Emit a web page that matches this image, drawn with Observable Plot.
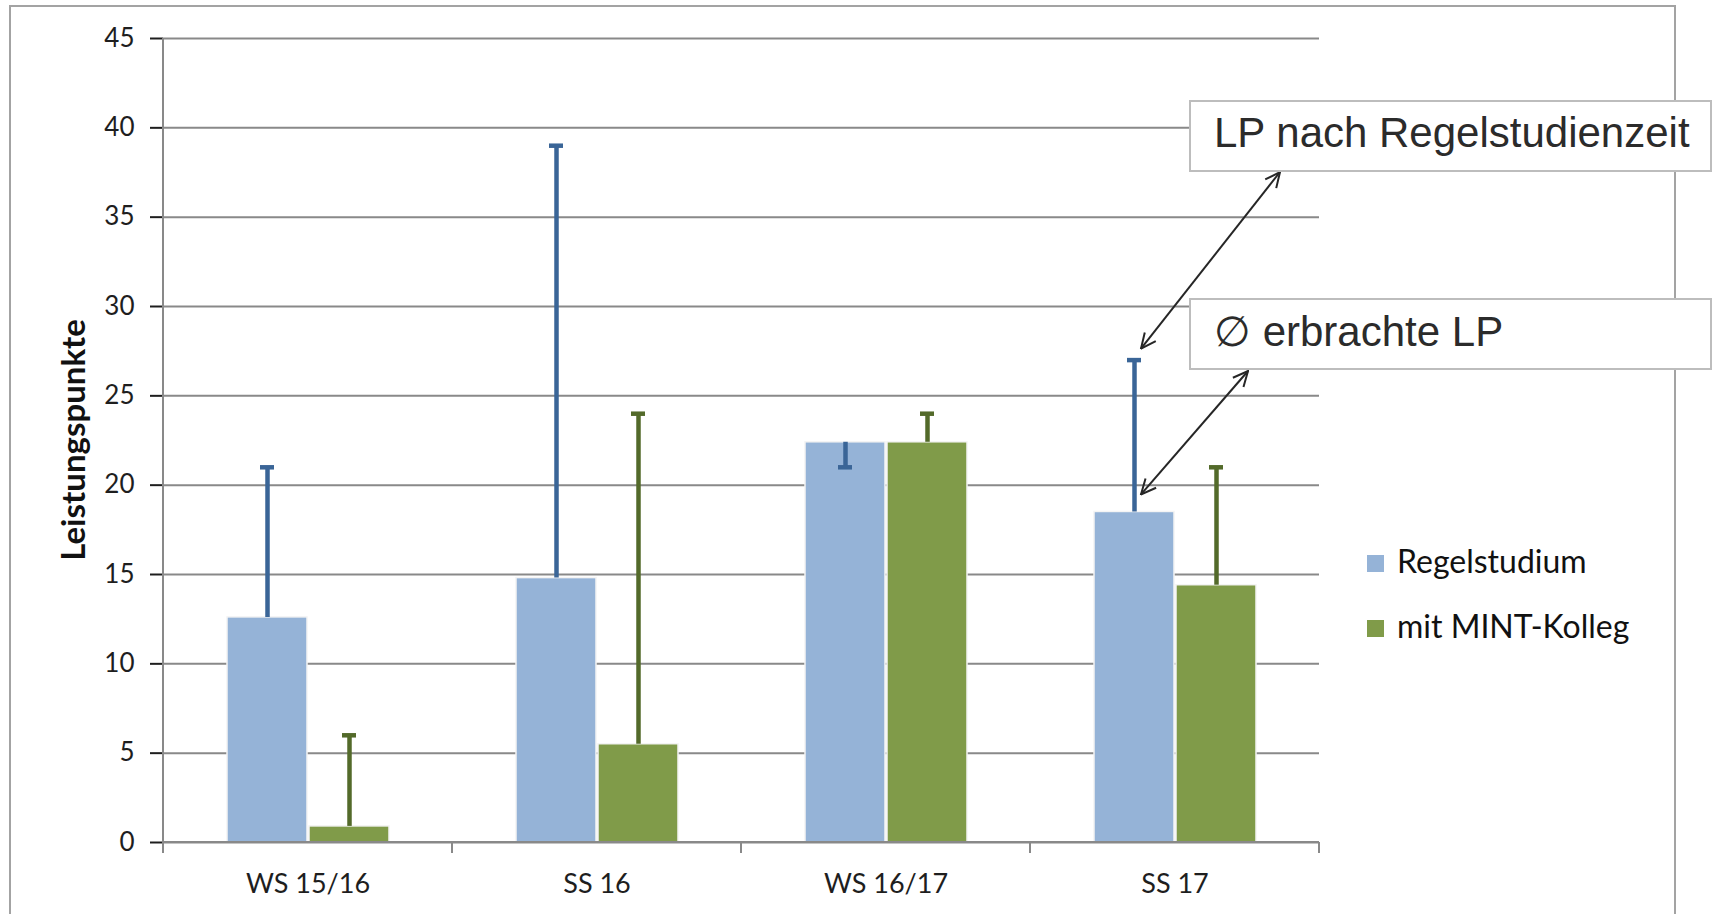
<!DOCTYPE html>
<html>
<head>
<meta charset="utf-8">
<script src="https://cdn.jsdelivr.net/npm/d3@7"></script>
<script src="https://cdn.jsdelivr.net/npm/@observablehq/plot@0.6"></script>
<style>
  html, body { margin: 0; padding: 0; background: #fff; }
  #chart { position: relative; width: 1717px; height: 914px; overflow: hidden; background: #fff; }
  #chart svg { display: block; }
</style>
</head>
<body>
<div id="chart"></div>
<script>
// ---- data ----
const categories = ["WS 15/16", "SS 16", "WS 16/17", "SS 17"];
const seriesNames = ["Regelstudium", "mit MINT-Kolleg"];
const regelMean = [12.6, 14.8, 22.4, 18.5];     // Ø erbrachte LP
const regelAfter = [21, 39, 21, 27];            // LP nach Regelstudienzeit
const mintMean = [0.9, 5.5, 22.4, 14.4];
const mintAfter = [6, 24, 24, 21];
const yTicks = [0, 5, 10, 15, 20, 25, 30, 35, 40, 45];
const yTitle = "Leistungspunkte";
const noteTop = "LP nach Regelstudienzeit";
const noteBottom = "\u2205 erbrachte LP";

const barColors = ["#95b3d7", "#809b49"];
const errColors = ["#3a6597", "#536a2a"];
const gridColor = "#898989";

const rows = categories.flatMap((c, i) => [
  {cat: c, series: seriesNames[0], mean: regelMean[i], after: regelAfter[i]},
  {cat: c, series: seriesNames[1], mean: mintMean[i], after: mintAfter[i]}
]);

const errMarks = seriesNames.flatMap((s, k) => [
  Plot.ruleX(rows, {filter: d => d.series === s, fx: "cat", x: "series", y1: "mean", y2: "after",
    stroke: errColors[k], strokeWidth: 4.5}),
  Plot.tickY(rows, {filter: d => d.series === s, fx: "cat", x: "series", y: "after",
    stroke: errColors[k], strokeWidth: 4.5, insetLeft: 34, insetRight: 34})
]);

const plot = Plot.plot({
  width: 1717,
  height: 914,
  marginLeft: 162,
  marginRight: 397,
  marginTop: 38,
  marginBottom: 72,
  style: {fontFamily: "Lato, 'Open Sans', sans-serif", fontSize: "26px", color: "#1e1e1e", background: "transparent", overflow: "visible"},
  fx: {domain: categories, padding: 0, axis: "bottom", tickSize: 0, tickPadding: 31, label: null},
  x: {domain: seriesNames, paddingInner: 0, paddingOuter: 0.75, axis: null},
  y: {domain: [0, 45], ticks: yTicks, tickSize: 13, tickPadding: 16, label: null},
  color: {domain: seriesNames, range: barColors},
  marks: [
    Plot.ruleY(yTicks, {stroke: gridColor, strokeWidth: 2}),
    Plot.barY(rows, {fx: "cat", x: "series", y: "mean", fill: "series", insetLeft: 1, insetRight: 1,
      stroke: "#f4f4f4", strokeWidth: 1.5}),
    ...errMarks
  ]
});

document.getElementById("chart").appendChild(plot);

// ---- decorations drawn with the plot's own scales ----
const svg = d3.select(plot);
const yS = plot.scale("y");
const fxS = plot.scale("fx");
const xS = plot.scale("x");
const y0 = yS.apply(0);
const yTop = yS.apply(45);
const left = fxS.apply(categories[0]);
const right = fxS.apply(categories[categories.length - 1]) + fxS.bandwidth;

// colour axis ticks gray, slightly larger category labels
svg.selectAll('g[aria-label="y-axis tick"]').attr("stroke", gridColor).attr("stroke-width", 2);
svg.selectAll('g[aria-label="y-axis"] line, g[aria-label="y-axis"] .tick line').attr("stroke", gridColor).attr("stroke-width", 2);
svg.selectAll('g[aria-label="fx-axis tick label"]').attr("font-size", 27);

const deco = svg.append("g").attr("text-anchor", "start");
// y axis line
deco.append("line").attr("x1", left).attr("x2", left).attr("y1", yTop).attr("y2", y0 + 1)
  .attr("stroke", gridColor).attr("stroke-width", 2);
// x axis line
deco.append("line").attr("x1", left).attr("x2", right).attr("y1", y0).attr("y2", y0)
  .attr("stroke", gridColor).attr("stroke-width", 2);
// category boundary ticks
const bounds = categories.map(c => fxS.apply(c)).concat([right]);
bounds.forEach(bx => deco.append("line").attr("x1", bx).attr("x2", bx).attr("y1", y0).attr("y2", y0 + 11)
  .attr("stroke", gridColor).attr("stroke-width", 2));

// y axis title
deco.append("text").attr("transform", `translate(72,${(yTop + y0) / 2}) rotate(-90)`)
  .attr("text-anchor", "middle").attr("dominant-baseline", "central")
  .attr("font-family", "Lato, sans-serif").attr("font-weight", "bold").attr("font-size", 33)
  .attr("fill", "#111").text(yTitle);

// chart-area border
deco.append("rect").attr("x", 10).attr("y", 6).attr("width", 1665).attr("height", 960)
  .attr("fill", "none").attr("stroke", "#a3a3a3").attr("stroke-width", 2);

// legend
seriesNames.forEach((s, k) => {
  const ly = 555 + k * 65;
  deco.append("rect").attr("x", 1367).attr("y", ly).attr("width", 17).attr("height", 17).attr("fill", barColors[k]);
  deco.append("text").attr("x", 1397).attr("y", ly + 18).attr("text-anchor", "start")
    .attr("font-family", "Lato, sans-serif")
    .attr("font-size", 32).attr("fill", "#111").text(s);
});

// annotations
const defs = svg.append("defs");
defs.append("marker").attr("id", "ah").attr("viewBox", "0 -9 18 18").attr("refX", 17).attr("refY", 0)
  .attr("markerWidth", 18).attr("markerHeight", 18).attr("markerUnits", "userSpaceOnUse")
  .attr("orient", "auto-start-reverse")
  .append("path").attr("d", "M2,-7 L17,0 L2,7").attr("fill", "none").attr("stroke", "#262626").attr("stroke-width", 2);

const xMin = Math.min(...xS.range);
const cx = fxS.apply("SS 17") + (xS.apply(seriesNames[0]) - xMin) + xS.bandwidth / 2;
const iLast = categories.length - 1;

const boxes = [
  {y: 101, text: noteTop, baseline: 147},
  {y: 299, text: noteBottom, baseline: 346}
];
const arrows = [
  {x1: 1280, y1: 172, x2: cx + 7, y2: yS.apply(regelAfter[iLast]) - 11},
  {x1: 1248, y1: 371, x2: cx + 7, y2: yS.apply(regelMean[iLast]) - 17}
];
arrows.forEach(a => deco.append("line").attr("x1", a.x1).attr("y1", a.y1).attr("x2", a.x2).attr("y2", a.y2)
  .attr("stroke", "#262626").attr("stroke-width", 2)
  .attr("marker-start", "url(#ah)").attr("marker-end", "url(#ah)"));
boxes.forEach(b => {
  deco.append("rect").attr("x", 1190).attr("y", b.y).attr("width", 521).attr("height", 70)
    .attr("fill", "#fff").attr("stroke", "#bdbdbd").attr("stroke-width", 2);
  deco.append("text").attr("x", 1214).attr("y", b.baseline).attr("text-anchor", "start")
    .attr("font-family", "'Liberation Sans', Arial, sans-serif")
    .attr("font-size", 42).attr("fill", "#2b2b2b").text(b.text);
});
</script>
</body>
</html>
